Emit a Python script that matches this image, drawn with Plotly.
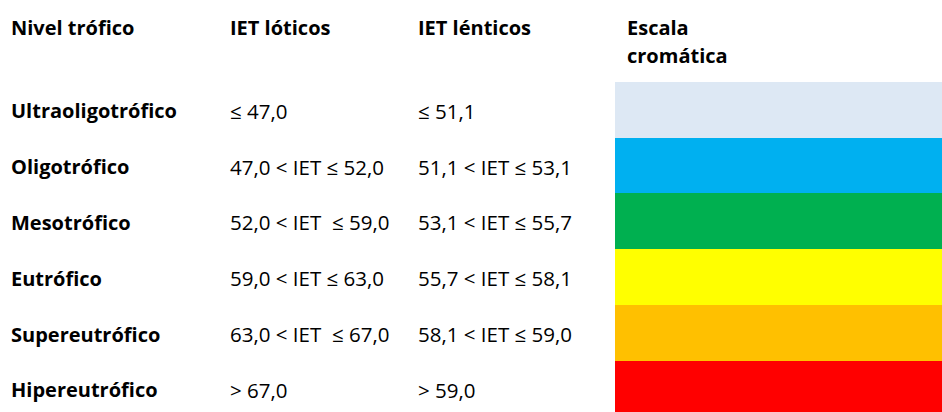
import plotly.graph_objects as go

headers = ["Nivel trófico", "IET lóticos", "IET lénticos", "Escala<br>cromática"]
niveles = ["Ultraoligotrófico", "Oligotrófico", "Mesotrófico", "Eutrófico",
           "Supereutrófico", "Hipereutrófico"]
iet_loticos = ["≤ 47,0", "47,0 < IET ≤ 52,0", "52,0 < IET  ≤ 59,0", "59,0 < IET ≤ 63,0",
               "63,0 < IET  ≤ 67,0", "> 67,0"]
iet_lenticos = ["≤ 51,1", "51,1 < IET ≤ 53,1", "53,1 < IET ≤ 55,7", "55,7 < IET ≤ 58,1",
                "58,1 < IET ≤ 59,0", "> 59,0"]
colores = ["#DDE8F4", "#00B0F0", "#00B050", "#FFFF00", "#FFC000", "#FF0000"]

W, H = 942, 412
PITCH = 55.8
ROW0 = 109.75
y_top = (0 - ROW0) / PITCH
y_bot = (H - ROW0) / PITCH

FONT = "Open Sans, Lato, sans-serif"
FS_B = 20
FS_R = 20.5
col_x = [9, 228, 416, 625]

fig = go.Figure()
rows = list(range(len(niveles)))
fig.add_trace(go.Bar(
    y=rows, x=[1] * len(rows), base=0, orientation="h", width=1,
    marker=dict(color=colores, line=dict(width=0)),
    xaxis="x2", yaxis="y", hoverinfo="skip", showlegend=False,
))

ann = []
line_px = [27, 55]
for i, h in enumerate(headers):
    for k, part in enumerate(h.split("<br>")):
        ann.append(dict(x=col_x[i], y=(line_px[k] - ROW0) / PITCH, xref="x", yref="y",
                        text=f"<b>{part}</b>", showarrow=False, xanchor="left",
                        yanchor="middle", font=dict(family=FONT, size=FS_B, color="#000")))
for r in rows:
    yv = r + 0.02
    for c, (txt, bold) in enumerate([(niveles[r], True), (iet_loticos[r], False), (iet_lenticos[r], False)]):
        ann.append(dict(x=col_x[c], y=yv, xref="x", yref="y",
                        text=f"<b>{txt}</b>" if bold else txt,
                        showarrow=False, xanchor="left", yanchor="middle",
                        font=dict(family=FONT, size=FS_B if bold else FS_R, color="#000")))

fig.update_layout(
    width=W, height=H, margin=dict(l=0, r=0, t=0, b=0),
    paper_bgcolor="white", plot_bgcolor="white",
    xaxis=dict(range=[0, W], visible=False, domain=[0, 1]),
    xaxis2=dict(range=[0, 1], visible=False, domain=[615 / W, 1], anchor="y"),
    yaxis=dict(range=[y_bot, y_top], visible=False, domain=[0, 1]),
    annotations=ann, bargap=0,
)
fig.write_html("out.html", config={"displayModeBar": False},
               post_script="document.body.style.margin='0';document.body.style.overflow='hidden';")
